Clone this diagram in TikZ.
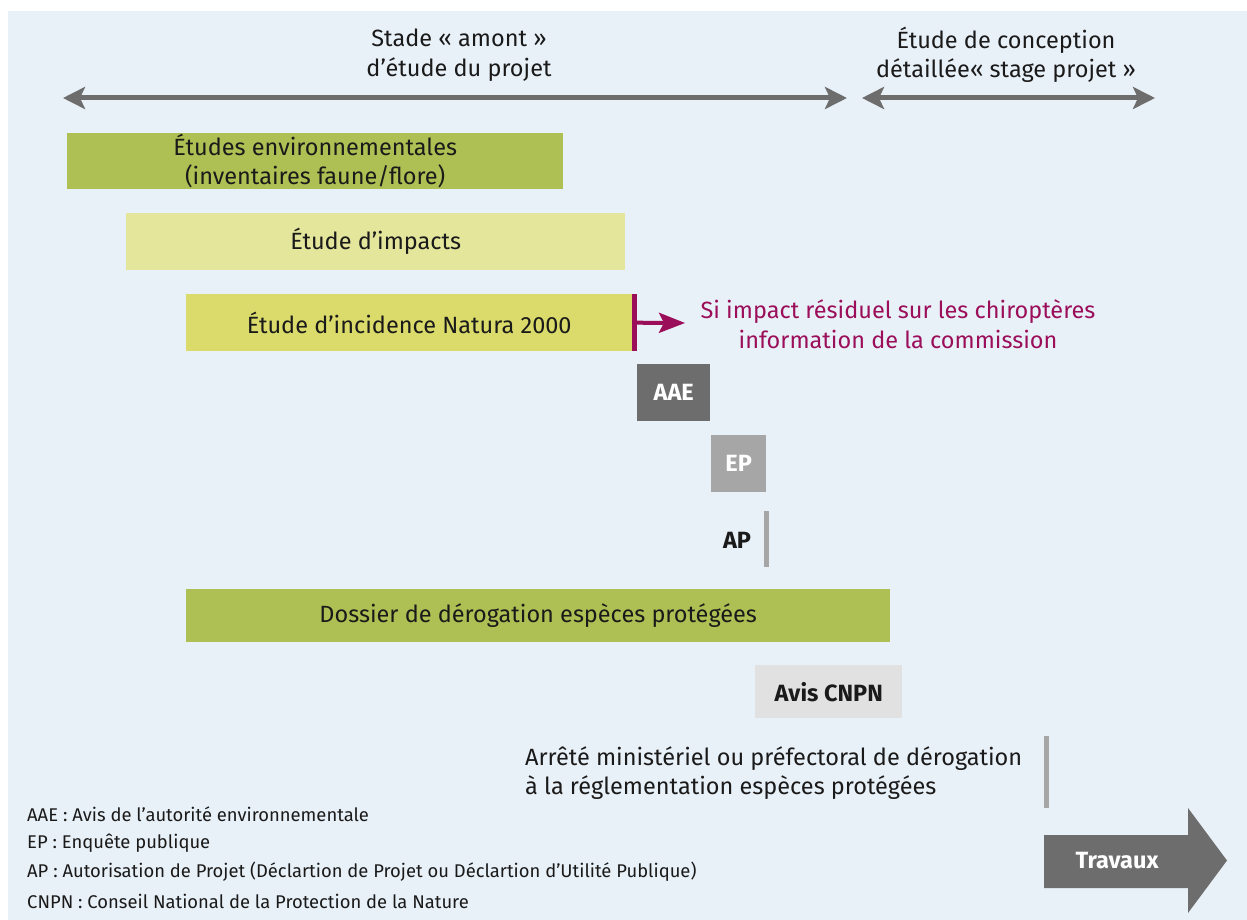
\documentclass[tikz,border=0pt]{standalone}
\usepackage{fontspec}
\setmainfont{Fira Sans}
\usetikzlibrary{arrows.meta}
\definecolor{bg}{HTML}{E9F1F8}
\definecolor{olive}{HTML}{AEC053}
\definecolor{paleyel}{HTML}{E4E69C}
\definecolor{yel}{HTML}{DADB6A}
\definecolor{dgray}{HTML}{6D6D6D}
\definecolor{mgray}{HTML}{A6A6A6}
\definecolor{lgray}{HTML}{E1E1E1}
\definecolor{magc}{HTML}{9B0E5A}
\definecolor{txt}{HTML}{1A1A1A}
\begin{document}
\begin{tikzpicture}[x=1pt,y=-1pt,
  bar/.style={rectangle, inner sep=0pt, anchor=north west, text=txt,
    font=\fontsize{23.5}{29.5}\selectfont, align=center},
  tag/.style={rectangle, inner sep=0pt, anchor=north west,
    font=\bfseries\fontsize{23.5}{28}\selectfont},
  lbl/.style={text=txt, font=\fontsize{23.5}{29.5}\selectfont, align=center},
  legend/.style={anchor=west, text=txt, inner sep=0pt, font=\fontsize{18.4}{22}\selectfont},
  phase/.style={draw=dgray, line width=5pt, {Stealth[length=22pt,width=22pt,inset=5pt]}-{Stealth[length=22pt,width=22pt,inset=5pt]}},
  tick/.style={draw=mgray, line width=5pt}
]
\useasboundingbox (0,0) rectangle (1247,920);
\fill[bg] (8,11) rectangle (1247,920);

% phase headers
\node[lbl] (amont) at (459,55) {Stade « amont »\\d’étude du projet};
\node[lbl] (detail) at (1006,55) {Étude de conception\\détaillée« stage projet »};
\coordinate (a1) at (63,98);
\coordinate (a2) at (847,98);
\coordinate (a3) at (862,98);
\coordinate (a4) at (1155,98);
\draw[phase] (a1) -- (a2);
\draw[phase] (a3) -- (a4);

% bars
\node[bar, fill=olive, minimum width=496pt, minimum height=56pt] (env) at (67,133)
  {Études environnementales\\(inventaires faune/flore)};
\node[bar, fill=paleyel, minimum width=499pt, minimum height=57pt] (imp) at (126,213)
  {Étude d’impacts};
\node[bar, fill=yel, minimum width=446pt, minimum height=57pt] (nat) at (186,294)
  {Étude d’incidence Natura 2000};

% magenta
\draw[magc, line width=4.5pt] ([xshift=2.25pt]nat.north east) -- ([xshift=2.25pt]nat.south east);
\coordinate (mtip) at (685,323);
\draw[magc, line width=4pt, -{Stealth[length=26pt,width=20pt,inset=5pt]}] ([xshift=2.25pt]nat.east) -- (mtip);
\node[lbl, text=magc] (chiro) at (898,324) {Si impact résiduel sur les chiroptères\\information de la commission};

% procedures
\node[tag, fill=dgray, text=white, minimum width=73pt, minimum height=57pt] (aae) at (637,364) {AAE};
\node[tag, fill=mgray, text=white, minimum width=55pt, minimum height=57pt] (ep) at (711,435) {EP};
\node[tag, text=txt, anchor=center] (ap) at (737,540) {AP};
\coordinate (apt) at (766,511);
\coordinate (apb) at (766,567);
\draw[tick] (apt) -- (apb);

\node[bar, fill=olive, minimum width=704pt, minimum height=53pt] (derog) at (186,589)
  {Dossier de dérogation espèces protégées};
\node[tag, fill=lgray, text=txt, minimum width=147pt, minimum height=53pt] (cnpn) at (755,665) {Avis CNPN};

\node[lbl, anchor=west, align=left, inner sep=0pt] (arrete) at (525,773)
  {Arrêté ministériel ou préfectoral de dérogation\\à la réglementation espèces protégées};
\coordinate (art) at (1046,736);
\coordinate (arb) at (1046,808);
\draw[tick] (art) -- (arb);

% travaux
\fill[dgray] (1044,835) -- (1188,835) -- (1188,808) -- (1227,860.5) -- (1188,913) -- (1188,888) -- (1044,888) -- cycle;
\node[text=white, font=\bfseries\fontsize{23.5}{28}\selectfont] (trav) at (1117,861) {Travaux};

% legend
\node[legend] (l1) at (27,814) {AAE : Avis de l’autorité environnementale};
\node[legend] (l2) at (27,843) {EP : Enquête publique};
\node[legend] (l3) at (27,872) {AP : Autorisation de Projet (Déclartion de Projet ou Déclartion d’Utilité Publique)};
\node[legend] (l4) at (27,901) {CNPN : Conseil National de la Protection de la Nature};
\end{tikzpicture}
\end{document}
